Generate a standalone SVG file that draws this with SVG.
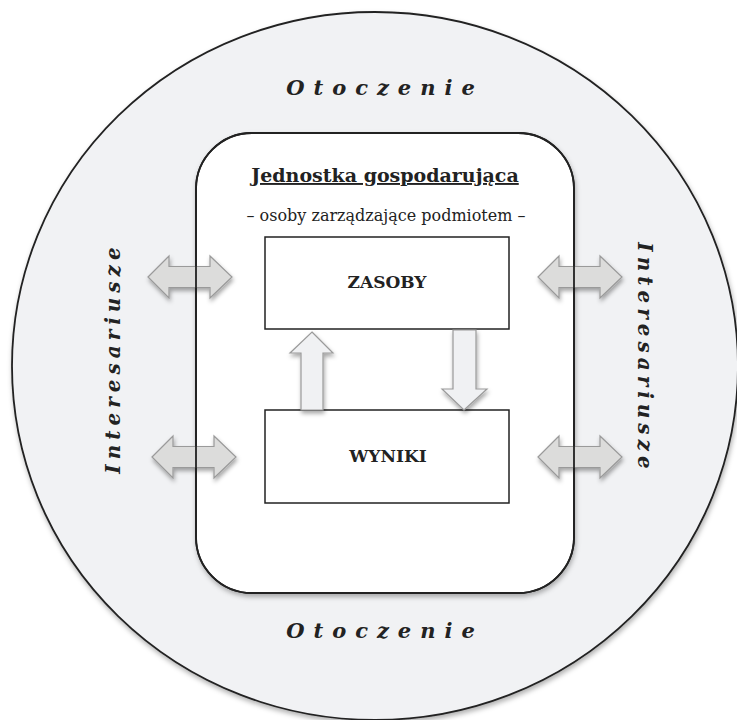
<svg xmlns="http://www.w3.org/2000/svg" xmlns:xlink="http://www.w3.org/1999/xlink" width="737" height="720" viewBox="0 0 737 720">
<defs>
<filter id="sh" x="-20%" y="-20%" width="140%" height="140%">
<feDropShadow dx="1" dy="3" stdDeviation="2.5" flood-color="#000" flood-opacity="0.3"/>
</filter>
<filter id="sh2" x="-20%" y="-20%" width="140%" height="140%">
<feDropShadow dx="1" dy="3" stdDeviation="2" flood-color="#000" flood-opacity="0.35"/>
</filter>
<path id="dbl" d="M-42,0 L-21,-21 L-21,-10.5 L20,-10.5 L20,-21 L42,0 L20,21 L20,10.5 L-21,10.5 L-21,21 Z"/>
</defs>
<style>
.serif{font-family:"DejaVu Serif","Liberation Serif",serif;fill:#222}
.env{font-size:21px;font-weight:bold;font-style:italic;letter-spacing:9px}
.side{font-size:20px;font-weight:bold;font-style:italic;letter-spacing:5px}
.box{fill:#fff;stroke:#222;stroke-width:1.5}
.lbl{font-size:17px;font-weight:bold}
.dbl{fill:#dcdcdb;stroke:#9a9a9a;stroke-width:1.2}
.vert{fill:#f0f1f3;stroke:#9a9a9a;stroke-width:1.2}
</style>
<g id="otoczenie">
<ellipse cx="375" cy="366" rx="363" ry="354" fill="#f1f2f4" stroke="#222" stroke-width="1.8" filter="url(#sh)"/>
<text class="serif env" x="385" y="95" text-anchor="middle">Otoczenie</text>
<text class="serif env" x="385" y="638" text-anchor="middle">Otoczenie</text>
<text class="serif side" transform="translate(120,358) rotate(-90)" text-anchor="middle">Interesariusze</text>
<text class="serif side" transform="translate(638,358) rotate(90)" text-anchor="middle">Interesariusze</text>
</g>
<g id="jednostka">
<rect x="196" y="133" width="378" height="460" rx="56" ry="56" fill="#fff" stroke="#222" stroke-width="1.8" filter="url(#sh)"/>
<text class="serif" x="385" y="182" text-anchor="middle" font-size="19" font-weight="bold" text-decoration="underline">Jednostka gospodarująca</text>
<text class="serif" x="386" y="221" text-anchor="middle" font-size="16">– osoby zarządzające podmiotem –</text>
</g>
<g id="zasoby">
<rect class="box" x="265" y="237" width="244" height="92"/>
<text class="serif lbl" x="387" y="288" text-anchor="middle">ZASOBY</text>
</g>
<g id="wyniki">
<rect class="box" x="265" y="410" width="244" height="93"/>
<text class="serif lbl" x="388" y="462" text-anchor="middle">WYNIKI</text>
</g>
<g id="connectors">
<use xlink:href="#dbl" class="dbl" transform="translate(190,277)" filter="url(#sh2)"/>
<use xlink:href="#dbl" class="dbl" transform="translate(194,457)" filter="url(#sh2)"/>
<use xlink:href="#dbl" class="dbl" transform="translate(580,277)" filter="url(#sh2)"/>
<use xlink:href="#dbl" class="dbl" transform="translate(580,457)" filter="url(#sh2)"/>
<path class="vert" d="M312,332 L333,353 L323,353 L323,410 L301,410 L301,353 L290,353 Z" filter="url(#sh2)"/>
<path class="vert" d="M453,330 L476,330 L476,389 L487,389 L464,410 L442,389 L453,389 Z" filter="url(#sh2)"/>
<rect x="196" y="133" width="378" height="460" rx="56" ry="56" fill="none" stroke="#222" stroke-width="1.8"/>
</g>
</svg>
